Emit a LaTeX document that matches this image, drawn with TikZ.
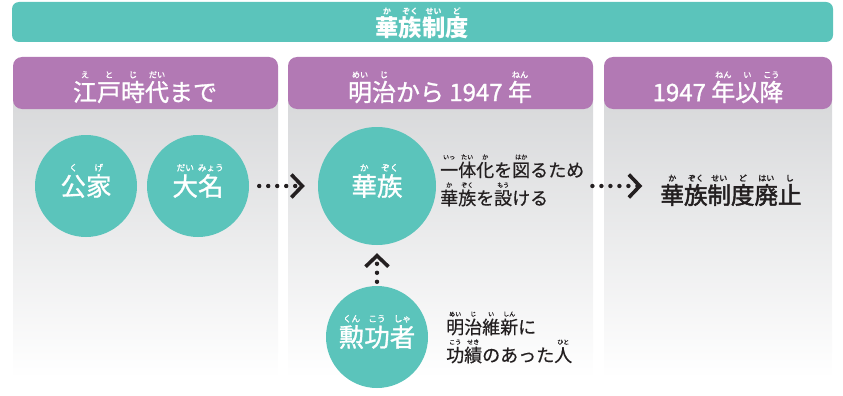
\documentclass[tikz,border=0pt]{standalone}
\usepackage{fontspec}
\setmainfont{Noto Sans CJK JP}
\newfontfamily\jpmed{Noto Sans CJK JP}[FakeBold=1.2]
\newfontfamily\jpsemi{Noto Sans CJK JP}[FakeBold=2.2]
\newfontfamily\jpbody{Noto Sans CJK JP}[FakeBold=0.5]
\usetikzlibrary{arrows.meta,calc}
\definecolor{teal}{HTML}{5BC4BB}
\definecolor{hdrpurple}{HTML}{B279B4}
\definecolor{panelgray}{HTML}{D5D6D8}
\definecolor{ink}{HTML}{231F20}
\makeatletter
\newcommand{\frg}[2]{\leavevmode\setbox0=\hbox{#1}%
\rlap{\makebox[\wd0][c]{\raisebox{0.97em}[0pt][0pt]{\fontsize{\the\dimexpr 0.34\dimexpr\f@size pt\relax\relax}{0pt}\selectfont #2}}}\box0}
\makeatother
\tikzset{
  panelbox/.style={top color=panelgray, bottom color=white},
  hdrbox/.style={fill=hdrpurple, rounded corners=9pt},
  titlebox/.style={fill=teal, rounded corners=7pt},
  hdrtext/.style={inner sep=0pt, text=white, font=\jpmed\fontsize{24}{28}\selectfont},
  circ/.style={circle, fill=teal, inner sep=0pt, minimum size=102pt, text=white, font=\jpmed\fontsize{25.5}{30}\selectfont},
  bodytext/.style={inner sep=0pt, anchor=west, align=left, text=ink, font=\jpbody\fontsize{18}{28}\selectfont},
  dotarrow/.style={draw=ink, line width=4.4pt, line cap=round, dash pattern=on 0pt off 9pt,
     -{Straight Barb[length=11pt,width=23pt,line width=3.6pt]}}
}
\begin{document}
\begin{tikzpicture}[x=1pt,y=-1pt]
\useasboundingbox (0,0) rectangle (843,396);
% panels
\shade[panelbox] (13,80) rectangle (278,378);
\shade[panelbox] (288,80) rectangle (593,378);
\shade[panelbox] (604,80) rectangle (832,378);
% headers
\fill[hdrbox] (13,57) rectangle (278,109);
\fill[hdrbox] (288,57) rectangle (593,109);
\fill[hdrbox] (604,57) rectangle (832,109);
\fill[titlebox] (12,2) rectangle (833,42);
% texts of bars
\node[hdrtext, font=\fontsize{23.3}{28}\selectfont\bfseries] (title) at (422,28) {\frg{華}{か}\frg{族}{ぞく}\frg{制}{せい}\frg{度}{ど}};
\node[hdrtext] (h1) at (145,92) {\frg{江}{え}\frg{戸}{と}\frg{時}{じ}\frg{代}{だい}まで};
\node[hdrtext] (h2) at (440,92) {\frg{明}{めい}\frg{治}{じ}から 1947 \frg{年}{ねん}};
\node[hdrtext] (h3) at (718,92) {1947 \frg{年}{ねん}\frg{以}{い}\frg{降}{こう}};
% circles
\node[circ] (kuge) at (86,186) {\frg{公}{く}\frg{家}{げ}};
\node[circ] (daimyo) at (198,186) {\frg{大}{だい}\frg{名}{みょう}};
\node[circ, minimum size=118pt] (kazoku) at (377,186) {\frg{華}{か}\frg{族}{ぞく}};
\node[circ] (kunko) at (377,337) {\frg{勲}{くん}\frg{功}{こう}\frg{者}{しゃ}};
% explanations
\node[bodytext] (expl1) at (440,184) {\frg{一}{いっ}\frg{体}{たい}\frg{化}{か}を\frg{図}{はか}るため\\\frg{華}{か}\frg{族}{ぞく}を\frg{設}{もう}ける};
\node[bodytext] (expl2) at (446,341) {\frg{明}{めい}\frg{治}{じ}\frg{維}{い}\frg{新}{しん}に\\\frg{功}{こう}\frg{績}{せき}のあった\frg{人}{ひと}};
\node[inner sep=0pt, text=ink, font=\jpsemi\fontsize{23.5}{28}\selectfont] (result) at (731,195) {\frg{華}{か}\frg{族}{ぞく}\frg{制}{せい}\frg{度}{ど}\frg{廃}{はい}\frg{止}{し}};
% arrows
\draw[dotarrow] ([xshift=10pt]daimyo.east) -- ([xshift=-13pt]kazoku.west);
\draw[dotarrow] ($(expl1.east |- kazoku.center)+(8pt,0pt)$) -- ($(result.west |- kazoku.center)+(-18pt,0pt)$);
\draw[dotarrow] ([yshift=4pt]kunko.north) -- ([yshift=-8pt]kazoku.south);
\end{tikzpicture}
\end{document}
